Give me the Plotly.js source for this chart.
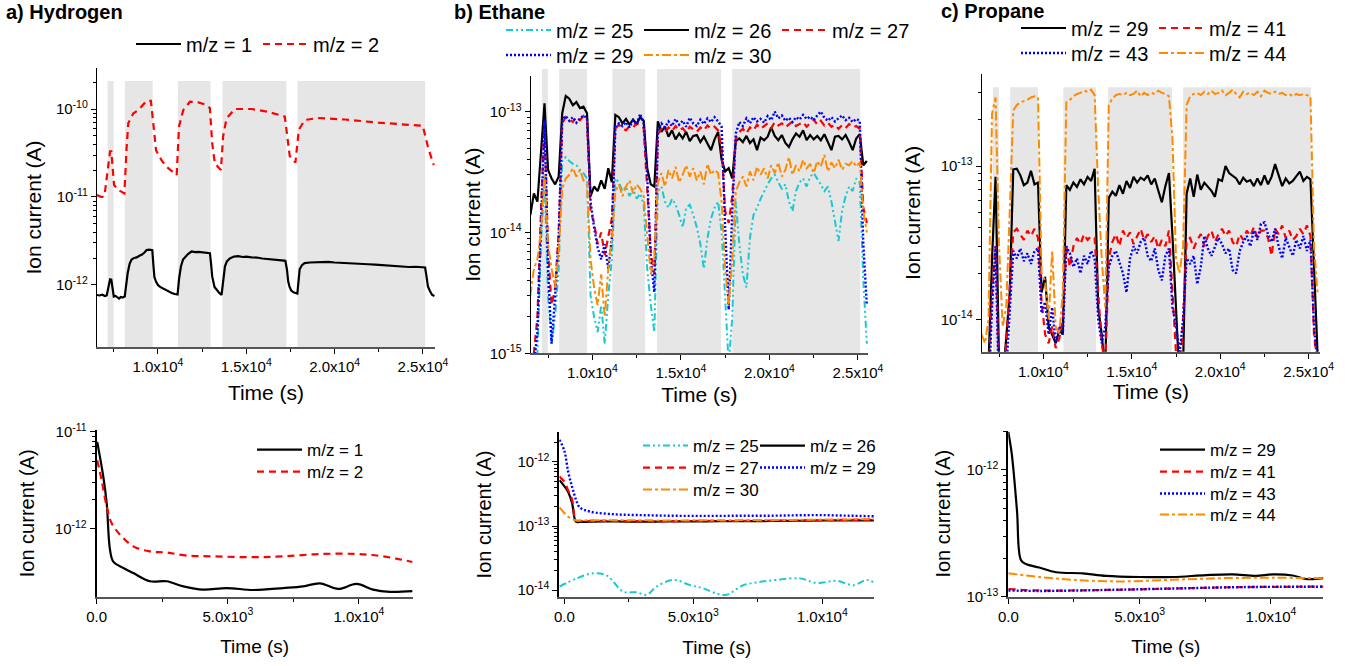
<!DOCTYPE html>
<html>
<head>
<meta charset="utf-8">
<script src="https://cdn.plot.ly/plotly-3.0.1.min.js"></script>
<style>html,body{margin:0;padding:0;background:#fff;}#chart{width:1357px;height:666px;}</style>
</head>
<body>
<div id="chart"></div>
<script>
// ---------------- DATA ----------------
// Grey (gas-on) intervals, seconds
const gasOnStart = [7150, 8130, 11130, 13650, 17900];
const gasOnEnd   = [7490, 9700, 12978, 17270, 25125];

// Tick labels
const topTickVals = [10000, 15000, 20000, 25000];
const topTickText = ['1.0x10<sup>4</sup>', '1.5x10<sup>4</sup>', '2.0x10<sup>4</sup>', '2.5x10<sup>4</sup>'];
const topMinorVals = [7500, 12500, 17500, 22500];
const botTickVals = [0, 5000, 10000];
const botTickText = ['0.0', '5.0x10<sup>3</sup>', '1.0x10<sup>4</sup>'];
const botMinorVals = [2500, 7500];

// a) Hydrogen, top (A)
const h2_t1 = [6550,6700,6850,7000,7100,7200,7290,7360,7430,7500,7600,7700,7800,7900,8000,8120,8200,8290,8400,8510,8650,8800,8950,9100,9250,9360,9500,9680,9750,9800,9900,10000,10120,10250,10400,10500,10650,10780,10950,11110,11200,11300,11420,11530,11700,11900,12100,12300,12500,12700,12940,13000,13070,13200,13320,13450,13600,13700,13790,13900,14070,14300,14540,14800,15000,15300,15600,15900,16230,16500,16800,17000,17210,17300,17370,17450,17550,17700,17890,17960,18020,18150,18300,18600,19000,19300,19630,20000,20400,20800,21200,21500,21900,22300,22700,23000,23400,23800,24200,24600,25000,25120,25200,25280,25400,25520,25650];
const h2_mz1 = [7.7e-13,7.6e-13,7.75e-13,7.5e-13,7.6e-13,9.5e-13,1.16e-12,1.15e-12,8.5e-13,7.4e-13,7.5e-13,7.2e-13,7.0e-13,7.3e-13,7.2e-13,7.4e-13,1.0e-12,1.38e-12,1.75e-12,1.95e-12,2.03e-12,2.06e-12,2.15e-12,2.22e-12,2.35e-12,2.5e-12,2.52e-12,2.48e-12,1.6e-12,1.22e-12,1.08e-12,1.0e-12,9.5e-13,9.2e-13,8.9e-13,8.8e-13,8.3e-13,8.1e-13,7.9e-13,7.8e-13,1.2e-12,1.62e-12,1.95e-12,2.08e-12,2.25e-12,2.4e-12,2.36e-12,2.38e-12,2.35e-12,2.34e-12,2.3e-12,1.8e-12,1.25e-12,9.5e-13,8.8e-13,8.2e-13,7.7e-13,1.2e-12,1.62e-12,1.85e-12,2.0e-12,2.1e-12,2.13e-12,2.08e-12,2.1e-12,2.06e-12,2.05e-12,2.0e-12,1.98e-12,1.96e-12,1.92e-12,1.9e-12,1.88e-12,1.5e-12,1.1e-12,9.5e-13,8.6e-13,8.2e-13,8.0e-13,1.2e-12,1.51e-12,1.68e-12,1.77e-12,1.8e-12,1.82e-12,1.84e-12,1.83e-12,1.8e-12,1.79e-12,1.77e-12,1.75e-12,1.76e-12,1.72e-12,1.7e-12,1.68e-12,1.64e-12,1.62e-12,1.63e-12,1.6e-12,1.61e-12,1.6e-12,1.58e-12,1.25e-12,9.6e-13,8.5e-13,7.7e-13,7.5e-13];
const h2_t2 = [6550,6800,6970,7150,7290,7360,7440,7515,7760,8100,8220,8320,8600,8890,9360,9600,9735,9890,10210,10490,11060,11190,11430,11810,12280,12750,12940,13070,13220,13560,13690,13880,14350,15300,16230,17180,17460,17780,17970,18310,19060,20570,22450,24990,25280,25610];
const h2_mz2 = [1.05e-11,1.0e-11,1.02e-11,2.0e-11,3.3e-11,3.3e-11,2.0e-11,1.37e-11,1.2e-11,1.1e-11,3.5e-11,6.9e-11,8.9e-11,9.7e-11,1.24e-10,1.24e-10,6.9e-11,3.4e-11,2.6e-11,2.2e-11,1.78e-11,6.3e-11,9.7e-11,1.21e-10,1.19e-10,1.11e-10,1.02e-10,4.07e-11,2.4e-11,2.03e-11,4.9e-11,7.8e-11,1.0e-10,1.0e-10,9.3e-11,8.2e-11,2.9e-11,2.46e-11,5.8e-11,7.5e-11,7.9e-11,7.6e-11,7.0e-11,6.45e-11,3.7e-11,2.3e-11];

// Shared time base for b) and c) top panels (s)
const tTop = [6500,6700,6900,7100,7300,7500,7700,7900,8100,8300,8500,8700,8900,9100,9300,9500,9700,9900,10100,10300,10500,10700,10900,11100,11300,11500,11700,11900,12100,12300,12500,12700,12900,13100,13300,13500,13700,13900,14100,14300,14500,14700,14900,15100,15300,15500,15700,15900,16100,16300,16500,16700,16900,17100,17300,17500,17700,17900,18100,18300,18500,18700,18900,19100,19300,19500,19700,19900,20100,20300,20500,20700,20900,21100,21300,21500,21700,21900,22100,22300,22500,22700,22900,23100,23300,23500,23700,23900,24100,24300,24500,24700,24900,25100,25300,25500];

// b) Ethane, top, in units of 1e-14 A
const c2_mz25 = [0.03,0.05,0.1,0.8,2.9,0.3,0.12,0.2,0.5,4.0, 4.2,3.9,3.7,3.6,3.3,3.1,2.8,0.3,0.2,0.15, 0.25,0.12,0.3,0.6,2.8,2.6,2.2,2.4,2.0,2.3, 1.9,2.1,1.7,0.5,0.25,0.15,2.2,2.4,1.8,1.6, 1.9,1.7,1.4,1.1,1.6,1.7,1.4,1.1,0.8,0.5, 0.9,1.3,1.6,1.8,1.0,0.3,0.08,0.2,1.8,0.8, 0.45,0.35,0.9,1.4,1.6,1.9,2.2,2.5,2.8,3.0, 2.6,2.3,2.5,1.8,1.5,2.2,2.6,2.8,2.4,2.9, 3.1,2.8,2.5,2.2,2.4,1.8,1.2,0.85,1.5,2.0, 2.4,2.2,2.8,2.6,0.4,0.12];
const c2_mz26 = [1.4,2.1,1.8,4.5,11.7,3.3,2.8,2.5,2.9,9.7, 13.5,12.8,11.3,12.0,10.7,11.0,9.7,2.0,2.4,2.2, 2.7,2.3,3.4,2.6,9.4,9.0,8.0,8.7,7.8,8.6, 7.9,9.0,8.4,3.4,2.5,2.4,8.3,6.8,7.5,6.2, 7.0,5.9,6.6,6.0,6.8,5.7,6.3,6.4,5.6,6.2, 5.5,4.8,5.9,6.8,4.0,3.2,3.4,2.8,5.7,6.0, 5.6,6.3,5.5,5.9,4.8,6.1,5.8,6.2,7.4,6.3, 5.8,6.4,5.5,5.1,5.9,6.6,6.2,7.0,5.8,6.4, 5.9,6.3,5.8,6.5,5.6,4.8,6.2,6.3,5.9,6.4, 5.6,4.8,6.0,6.5,3.6,3.9];
const c2_mz27 = [0.05,0.1,0.2,1.5,8.3,0.7,0.25,0.35,1.0,8.0, 9.0,8.6,8.2,9.0,8.5,9.2,8.5,1.5,1.2,0.8, 1.0,0.65,0.9,1.3,7.2,7.8,7.3,7.0,7.6,7.4, 8.0,7.8,7.3,2.5,0.7,0.45,6.5,7.2,6.8,7.4, 6.9,7.6,7.0,7.3,6.7,7.5,7.1,6.8,7.4,7.0, 7.7,7.2,7.5,7.0,5.0,1.5,1.2,2.0,6.0,6.8, 7.2,6.6,7.4,7.0,7.8,7.2,7.6,8.0,7.3,8.2, 7.7,8.0,7.4,7.9,8.3,7.6,7.9,8.2,7.5,8.0, 8.6,7.8,8.4,7.7,8.1,7.5,7.8,7.2,7.7,7.3, 7.9,7.4,7.6,7.2,1.6,1.2];
const c2_mz29 = [0.05,0.08,0.15,1.2,8.5,0.5,0.12,0.3,0.9,8.6, 9.2,8.4,9.0,8.1,8.8,9.3,8.8,1.8,1.1,0.75, 0.6,0.8,0.5,0.9,7.5,8.0,7.6,8.2,7.4,8.5, 7.8,9.6,8.0,2.9,0.6,0.32,7.0,8.0,7.4,8.3, 7.6,8.7,7.8,8.4,7.5,8.9,8.0,7.6,8.6,7.9, 8.8,8.2,9.0,8.3,7.5,1.1,0.23,1.5,6.6,8.2, 7.6,8.8,8.0,9.0,8.3,8.7,8.1,9.2,8.5,10.0, 8.8,9.3,8.4,8.9,8.2,9.0,8.6,9.4,8.7,9.1, 8.5,9.3,10.0,8.9,8.4,9.0,8.3,8.8,9.3,8.5, 8.9,8.2,8.7,8.4,0.8,0.25];
const c2_mz30 = [0.3,0.5,0.6,1.0,3.0,0.8,0.5,0.35,0.7,2.3, 2.8,3.0,3.4,2.9,3.3,2.7,2.5,0.6,0.35,0.25, 0.45,0.2,0.5,0.9,2.2,2.5,2.0,2.4,2.7,2.1, 2.5,2.3,2.0,0.9,0.45,0.6,2.6,3.1,2.4,3.3, 2.8,3.5,2.6,3.0,3.6,2.9,3.4,2.7,3.2,2.5, 3.7,3.0,3.3,3.1,1.8,0.5,0.25,0.6,2.2,2.6, 2.9,2.4,3.2,2.7,3.5,3.0,3.4,2.8,3.6,3.1, 3.8,2.9,3.3,4.2,3.0,3.6,3.2,4.0,3.4,3.7, 3.1,3.9,3.5,4.4,3.2,3.8,3.4,4.0,3.3,3.7, 3.6,3.9,3.5,3.8,1.5,1.0];

// c) Propane, top, in units of 1e-14 A
const c3_mz29 = [0.3,0.4,0.5,2.5,8.5,0.5,0.4,0.75,1.5,9.5, 9.6,8.7,7.5,7.8,9.3,7.6,7.8,1.5,1.9,0.9, 0.8,0.7,0.85,0.8,7.5,7.0,7.8,7.3,8.2,7.6, 8.5,8.0,9.6,1.2,0.8,0.45,6.2,6.8,6.4,7.5, 6.6,8.0,7.2,8.5,7.8,8.4,8.1,8.7,7.6,8.3, 6.9,5.8,7.4,9.0,3.5,1.0,0.4,0.5,6.6,8.3, 6.3,8.8,7.0,7.8,7.3,6.9,6.3,8.2,8.0,10.0, 9.0,8.6,8.3,7.6,8.4,7.9,8.1,7.4,8.3,7.5, 8.7,7.6,8.5,10.3,8.8,7.4,8.3,7.7,8.0,8.6, 9.2,8.0,8.5,8.2,2.5,0.6];
const c3_mz41 = [0.3,0.3,0.4,1.5,3.0,0.4,0.3,0.7,1.5,3.7, 3.9,3.6,3.3,3.8,3.5,3.9,3.4,1.3,0.8,0.7, 0.9,0.65,0.75,1.0,3.0,2.2,3.0,3.4,3.1,3.6, 3.3,3.5,3.4,1.5,0.7,0.5,2.5,3.2,3.6,3.0, 3.8,3.4,3.7,3.1,3.5,3.9,3.3,3.6,3.2,3.5, 2.9,3.3,3.0,3.8,1.5,0.6,0.4,1.0,3.3,3.4, 2.9,3.3,3.6,3.0,3.5,3.8,3.2,3.6,3.9,3.5, 3.8,3.2,3.0,3.6,3.3,3.8,3.5,4.0,3.4,3.8, 3.8,3.4,2.6,3.9,3.6,4.1,3.4,3.8,3.3,3.5, 3.9,3.6,4.1,3.5,0.8,0.5];
const c3_mz43 = [0.2,0.25,0.3,1.2,3.0,0.3,0.25,0.45,1.2,2.8, 2.5,2.9,2.4,2.7,2.3,2.8,2.9,1.1,1.3,0.8, 1.2,0.7,0.9,0.8,3.0,2.7,2.2,2.5,2.0,2.6, 2.3,2.8,2.5,1.0,0.7,0.9,2.2,2.6,2.8,2.4, 2.0,1.5,2.5,3.0,2.7,3.2,3.4,2.6,2.4,2.9, 2.1,1.8,2.6,2.9,1.2,0.9,0.6,1.0,2.5,2.3, 2.6,1.7,2.2,3.5,2.9,2.6,3.0,3.4,3.1,2.7, 2.9,2.1,2.0,2.8,3.2,3.5,3.0,3.8,3.3,4.2, 4.3,3.6,3.2,3.9,3.0,2.5,3.4,3.0,2.6,3.3, 2.9,3.5,2.8,3.3,0.9,0.5];
const c3_mz44 = [0.8,0.7,1.0,22,28,3.0,0.9,1.2,5.0,23, 25,26,26.5,27,28,28.5,28,2.0,1.8,1.0, 2.8,0.9,0.8,1.5,26,27,28.5,29.5,30,31, 30.5,31.5,29,7.0,2.5,1.2,25,27.5,29,29.5, 29,30,29,29.5,31,28.5,30,29,30,29.5, 31,30,29.5,28.5,15,2.5,2.0,3.0,25,28.5, 29.5,30,29,30.5,29.5,31,29.5,30,31,29, 30,31.5,29.5,28,30.5,29.5,30,29,30.5,28.5, 31,30,29.5,30.5,29.5,30,29,29.5,28.5,29.5, 29,29.5,29,28.5,3.0,1.5];

// a) Hydrogen, bottom (A)
const h2b_t1 = [20,252,381,507,633,1014,1395,2031,2667,3302,4064,4953,5969,7112,7874,8510,9208,9907,10542,11178,12042];
const h2b_mz1 = [7.9e-12,3.45e-12,1.84e-12,6.08e-13,4.6e-13,3.95e-13,3.5e-13,2.88e-13,2.88e-13,2.55e-13,2.36e-13,2.45e-13,2.34e-13,2.45e-13,2.55e-13,2.74e-13,2.4e-13,2.7e-13,2.36e-13,2.24e-13,2.28e-13];
const h2b_t2 = [20,185,381,572,890,1395,2031,2667,3429,4445,5969,7112,8510,9907,10923,12042];
const h2b_mz2 = [5.1e-12,3.2e-12,1.7e-12,1.14e-12,8.7e-13,6.6e-13,5.85e-13,5.7e-13,5.3e-13,5.2e-13,5.1e-13,5.2e-13,5.5e-13,5.5e-13,5.2e-13,4.55e-13];

// b) Ethane, bottom (A)
const c2b_t = [-190,0,150,300,450,600,1000,2000,3000,4000,5000,6000,7000,8000,9000,10000,11000,12000];
const c2b_mz26 = [5.2e-13,4.2e-13,3.4e-13,2.3e-13,1.17e-13,1.16e-13,1.17e-13,1.18e-13,1.17e-13,1.18e-13,1.18e-13,1.19e-13,1.19e-13,1.2e-13,1.21e-13,1.22e-13,1.23e-13,1.23e-13];
const c2b_mz27 = [5.9e-13,4.9e-13,3.6e-13,2.6e-13,1.22e-13,1.2e-13,1.2e-13,1.2e-13,1.19e-13,1.19e-13,1.2e-13,1.2e-13,1.2e-13,1.21e-13,1.22e-13,1.23e-13,1.25e-13,1.26e-13];
const c2b_mz29 = [2.2e-12,1.5e-12,7.0e-13,4.1e-13,2.6e-13,1.95e-13,1.68e-13,1.52e-13,1.48e-13,1.45e-13,1.44e-13,1.44e-13,1.45e-13,1.45e-13,1.47e-13,1.48e-13,1.45e-13,1.42e-13];
const c2b_mz30 = [1.95e-13,1.6e-13,1.4e-13,1.28e-13,1.23e-13,1.22e-13,1.23e-13,1.23e-13,1.23e-13,1.22e-13,1.23e-13,1.23e-13,1.24e-13,1.24e-13,1.25e-13,1.26e-13,1.27e-13,1.28e-13];
const c2b_t25 = [-190,480,1120,1640,2290,2800,3190,3580,4230,4870,5390,5900,6290,6940,7590,8230,9140,9780,10560,11200,11720,12020];
const c2b_mz25 = [1.14e-14,1.53e-14,1.84e-14,1.7e-14,9.5e-15,9.3e-15,8.5e-15,1.14e-14,1.45e-14,1.2e-14,1.07e-14,8.9e-15,8.5e-15,1.2e-14,1.35e-14,1.45e-14,1.53e-14,1.3e-14,1.4e-14,1.2e-14,1.45e-14,1.3e-14];

// c) Propane, bottom (A)
const c3b_t29 = [0,130,330,480,670,1180,1820,2830,3720,4990,6260,7530,8540,9430,10070,10830,11340,12000];
const c3b_mz29 = [2.0e-12,1.35e-12,4.8e-13,1.95e-13,1.81e-13,1.7e-13,1.56e-13,1.53e-13,1.46e-13,1.43e-13,1.43e-13,1.48e-13,1.5e-13,1.46e-13,1.5e-13,1.47e-13,1.38e-13,1.4e-13];
const c3b_t44 = [0,1180,2450,4230,6260,8160,10070,12000];
const c3b_mz44 = [1.53e-13,1.43e-13,1.36e-13,1.32e-13,1.36e-13,1.4e-13,1.41e-13,1.4e-13];
const c3b_t4x = [0,1180,3720,6260,8800,12000];
const c3b_mz41 = [1.15e-13,1.12e-13,1.13e-13,1.16e-13,1.19e-13,1.2e-13];
const c3b_mz43 = [1.12e-13,1.11e-13,1.13e-13,1.16e-13,1.19e-13,1.2e-13];

// ---------------- STYLE ----------------
const FONT = 'Arial, "Liberation Sans", sans-serif';
const COL = {k:'#000000', r:'#FF0000', b:'#0000FF', c:'#17C9D0', o:'#FF8A00'};
const DASH = {k:'solid', r:'7px,5px', b:'2px,2px', c:'7px,3px,2px,3px,2px,3px', o:'9px,3px,3px,3px'};
const W = {k:2.2, r:2.2, b:2.4, c:2, o:2};

function scaled(arr, f){ return arr.map(v => v*f); }
function line(x, y, xa, ya, key, name, legend, rank, lw){
  const t = {x, y, xaxis:xa, yaxis:ya, type:'scatter', mode:'lines', name,
    line:{color:COL[key], dash:DASH[key], width:W[key]}, legend, legendrank:rank, showlegend:true, hoverinfo:'skip'};
  if (lw) t.legendwidth = lw;
  return t;
}

const traces = [
  line(h2_t1, h2_mz1, 'x', 'y', 'k', 'm/z = 1', 'legend', 1),
  line(h2_t2, h2_mz2, 'x', 'y', 'r', 'm/z = 2', 'legend', 2, 110),

  line(tTop, scaled(c2_mz25,1e-14), 'x2', 'y2', 'c', 'm/z = 25', 'legend2', 1),
  line(tTop, scaled(c2_mz26,1e-14), 'x2', 'y2', 'k', 'm/z = 26', 'legend2', 2),
  line(tTop, scaled(c2_mz27,1e-14), 'x2', 'y2', 'r', 'm/z = 27', 'legend2', 3, 110),
  line(tTop, scaled(c2_mz29,1e-14), 'x2', 'y2', 'b', 'm/z = 29', 'legend3', 1),
  line(tTop, scaled(c2_mz30,1e-14), 'x2', 'y2', 'o', 'm/z = 30', 'legend3', 2, 110),

  line(tTop, scaled(c3_mz29,1e-14), 'x3', 'y3', 'k', 'm/z = 29', 'legend4', 1),
  line(tTop, scaled(c3_mz41,1e-14), 'x3', 'y3', 'r', 'm/z = 41', 'legend4', 2, 110),
  line(tTop, scaled(c3_mz43,1e-14), 'x3', 'y3', 'b', 'm/z = 43', 'legend5', 1),
  line(tTop, scaled(c3_mz44,1e-14), 'x3', 'y3', 'o', 'm/z = 44', 'legend5', 2, 110),

  line(h2b_t1, h2b_mz1, 'x4', 'y4', 'k', 'm/z = 1', 'legend6', 1, 100),
  line(h2b_t2, h2b_mz2, 'x4', 'y4', 'r', 'm/z = 2', 'legend7', 1, 100),

  line(c2b_t25, c2b_mz25, 'x5', 'y5', 'c', 'm/z = 25', 'legend8', 1),
  line(c2b_t, c2b_mz26, 'x5', 'y5', 'k', 'm/z = 26', 'legend8', 2, 100),
  line(c2b_t, c2b_mz27, 'x5', 'y5', 'r', 'm/z = 27', 'legend9', 1),
  line(c2b_t, c2b_mz29, 'x5', 'y5', 'b', 'm/z = 29', 'legend9', 2, 100),
  line(c2b_t, c2b_mz30, 'x5', 'y5', 'o', 'm/z = 30', 'legend10', 1, 100),

  line(c3b_t29, c3b_mz29, 'x6', 'y6', 'k', 'm/z = 29', 'legend11', 1, 100),
  line(c3b_t4x, c3b_mz41, 'x6', 'y6', 'r', 'm/z = 41', 'legend12', 1, 100),
  line(c3b_t4x, c3b_mz43, 'x6', 'y6', 'b', 'm/z = 43', 'legend13', 1, 100),
  line(c3b_t44, c3b_mz44, 'x6', 'y6', 'o', 'm/z = 44', 'legend14', 1, 100),
];
// smooth bottom curves
traces.forEach(t => { if (['x4','x5','x6'].includes(t.xaxis)) t.line.shape = 'spline'; });

function logTicks(lo, hi){
  const vals = [], text = [], minor = [];
  for (let e = lo; e <= hi; e++){
    vals.push(Math.pow(10, e)); text.push('10<sup>' + e + '</sup>');
    for (let k = 2; k <= 9; k++) minor.push(k * Math.pow(10, e));
  }
  return {vals, text, minor};
}
function xAxis(domain, range, anchor, tv, tt, mv, standoff, tsize){
  return {domain, range, anchor, type:'linear', tickmode:'array', tickvals:tv, ticktext:tt,
    ticks:'outside', ticklen:5, tickwidth:1, tickcolor:'#000', showline:true, linecolor:'#555', linewidth:2,
    showgrid:false, zeroline:false, tickfont:{family:FONT, size:15, color:'#000'},
    minor:{tickmode:'array', tickvals:mv, ticks:'outside', ticklen:3, tickcolor:'#000', showgrid:false},
    title:{text:'Time (s)', font:{family:FONT, size:tsize, color:'#000'}, standoff}, automargin:false};
}
function yAxis(domain, range, anchor, lo, hi, standoff, tsize, lw){
  const t = logTicks(lo, hi);
  return {domain, range, anchor, type:'log', tickmode:'array', tickvals:t.vals, ticktext:t.text,
    ticks:'outside', ticklen:5, tickwidth:1, tickcolor:'#000', showline:true, linecolor:'#000', linewidth:lw,
    showgrid:false, zeroline:false, tickfont:{family:FONT, size:15, color:'#000'},
    minor:{tickmode:'array', tickvals:t.minor, ticks:'outside', ticklen:3, tickcolor:'#000', showgrid:false},
    title:{text:'Ion current (A)', font:{family:FONT, size:tsize, color:'#000'}, standoff}, automargin:false};
}

const Wd = 1357, Hd = 666;
const fx = p => p / Wd, fy = p => 1 - p / Hd;

const shapes = [];
[['x','y domain',0.953],['x2','y2 domain',1.025],['x3','y3 domain',0.952]].forEach(([xr, yr, top]) => {
  gasOnStart.forEach((s, i) => shapes.push({type:'rect', xref:xr, yref:yr, x0:s, x1:gasOnEnd[i], y0:0, y1:top,
    fillcolor:'#E6E6E6', line:{width:0}, layer:'below'}));
});

function leg(x, y, size, ew){
  const L = {x, y, xanchor:'left', yanchor:'middle', orientation:'h', bgcolor:'rgba(0,0,0,0)', borderwidth:0,
    font:{family:FONT, size, color:'#000'}, itemwidth:45, tracegroupgap:0, traceorder:'normal'};
  if (ew) { L.entrywidth = ew; L.entrywidthmode = 'pixels'; }
  return L;
}

const layout = {
  width:Wd, height:Hd, margin:{l:0, r:0, t:0, b:0}, paper_bgcolor:'#fff', plot_bgcolor:'rgba(0,0,0,0)',
  font:{family:FONT, color:'#000'},
  xaxis:  xAxis([fx(97), fx(435)], [6550, 25680], 'y', topTickVals, topTickText, topMinorVals, 11, 21),
  yaxis:  yAxis([fy(347), fy(68)], [-12.705, -9.534], 'x', -12, -10, 8, 21, 1.2),
  xaxis2: xAxis([fx(530.7), fx(868)], [6520, 25565], 'y2', topTickVals, topTickText, topMinorVals, 7, 21),
  yaxis2: yAxis([fy(353.3), fy(76)], [-15, -12.705], 'x2', -15, -13, 3, 21, 1.2),
  xaxis3: xAxis([fx(981.7), fx(1320)], [6516, 25639], 'y3', topTickVals, topTickText, topMinorVals, 4, 21),
  yaxis3: yAxis([fy(351.7), fy(74)], [-14.21, -12.40], 'x3', -14, -13, 14, 21, 1.2),
  xaxis4: xAxis([fx(96.7), fx(412.7)], [0, 12050], 'y4', botTickVals, botTickText, botMinorVals, 16, 19),
  yaxis4: yAxis([fy(596.7), fy(430)], [-12.7, -10.98], 'x4', -12, -11, 15, 20, 2),
  xaxis5: xAxis([fx(559.3), fx(874.3)], [-194, 12016], 'y5', botTickVals, botTickText, botMinorVals, 16, 19),
  yaxis5: yAxis([fy(597.3), fy(431.7)], [-14.11, -11.53], 'x5', -14, -12, 20, 20, 2),
  xaxis6: xAxis([fx(1008.3), fx(1323.3)], [0, 11992], 'y6', botTickVals, botTickText, botMinorVals, 16, 19),
  yaxis6: yAxis([fy(596.7), fy(430.7)], [-13, -11.69], 'x6', -13, -12, 10, 20, 2),
  legend:   leg(fx(131), fy(44), 20, 67),
  legend2:  leg(fx(501), fy(30), 20, 78),
  legend3:  leg(fx(501), fy(55), 20, 78),
  legend4:  leg(fx(1016), fy(28), 20, 78),
  legend5:  leg(fx(1016), fy(53), 20, 78),
  legend6:  leg(fx(252), fy(450), 17, 0),
  legend7:  leg(fx(252), fy(472), 17, 0),
  legend8:  leg(fx(638), fy(446), 17, 57),
  legend9:  leg(fx(638), fy(468), 17, 57),
  legend10: leg(fx(638), fy(490), 17, 57),
  legend11: leg(fx(1155), fy(450), 17, 0),
  legend12: leg(fx(1155), fy(472), 17, 0),
  legend13: leg(fx(1155), fy(494), 17, 0),
  legend14: leg(fx(1155), fy(515), 17, 0),
  shapes,
  annotations: [
    {text:'<b>a) Hydrogen</b>', xref:'paper', yref:'paper', x:fx(4), y:fy(12), xanchor:'left', yanchor:'middle', showarrow:false, font:{family:FONT, size:20, color:'#000'}},
    {text:'<b>b) Ethane</b>', xref:'paper', yref:'paper', x:fx(452), y:fy(12), xanchor:'left', yanchor:'middle', showarrow:false, font:{family:FONT, size:20, color:'#000'}},
    {text:'<b>c) Propane</b>', xref:'paper', yref:'paper', x:fx(939), y:fy(11), xanchor:'left', yanchor:'middle', showarrow:false, font:{family:FONT, size:20, color:'#000'}},
  ],
};

Plotly.newPlot('chart', traces, layout, {staticPlot:true, displayModeBar:false});
</script>
</body>
</html>
